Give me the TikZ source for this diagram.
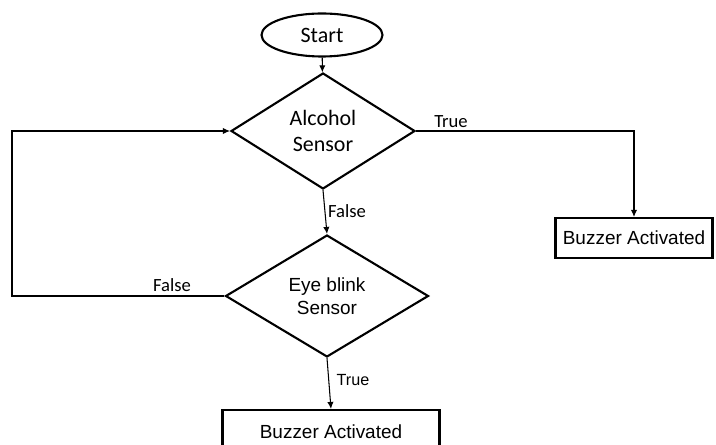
\documentclass[tikz,border=0pt]{standalone}
\usepackage{fontspec}
\setmainfont{Liberation Sans}
\newfontfamily\calibri{Carlito}
\usepackage{tikz}
\usetikzlibrary{positioning,shapes,arrows.meta}

\begin{document}
\begin{tikzpicture}[
    x=0.02cm, y=-0.02cm,
    startnode/.style={ellipse, draw, line width=1.2pt, minimum width=2.42cm, minimum height=0.86cm, inner sep=0pt, font=\calibri\fontsize{12.5}{14}\selectfont},
    decision/.style={diamond, draw, line width=1.2pt, inner sep=0pt, align=center},
    action/.style={rectangle, draw, line width=1.2pt, inner sep=0pt, font=\fontsize{10.8}{12.5}\selectfont},
    label/.style={font=\calibri\fontsize{10.6}{12}\selectfont, inner sep=1pt},
    arrow/.style={-{Latex[length=4pt,width=3.6pt]},line width=0.6pt}
]
\useasboundingbox (0,0) rectangle (716,445);

% Start
\node[startnode] (start) at (322,35) {Start};

% Alcohol Sensor
\node[decision, minimum width=3.68cm, minimum height=2.32cm, font=\calibri\fontsize{12.5}{15}\selectfont] (alcohol) at (323,131) {Alcohol\\Sensor};

% Eye blink Sensor
\node[decision, minimum width=4.06cm, minimum height=2.44cm, font=\fontsize{10.8}{13}\selectfont] (eyeblink) at (327,296) {Eye blink\\Sensor};

% Buzzer boxes
\node[action, minimum width=3.14cm, minimum height=0.8cm] (buzzright) at (634,238) {Buzzer Activated};
\node[action, minimum width=4.34cm, minimum height=0.88cm] (buzzdown) at (331,432) {Buzzer Activated};

% Loop back
\coordinate (back) at (12,296);

% Connections
\draw[arrow] (start) -- (alcohol);
\draw[arrow] (alcohol.east) -| (buzzright.north);
\draw[arrow] (alcohol.south) -- (eyeblink.north);
\draw[arrow] (eyeblink.south) -- (buzzdown.north);
\draw[arrow] (eyeblink.west) -- (back) |- (alcohol.west);

% Labels
\node[label] (ltrue) at (451,122) {True};
\node[label] (lfalse) at (347,211) {False};
\node[label] (lfalseback) at (172,285) {False};
\node[label, font=\fontsize{9.2}{11}\selectfont] (ltruedown) at (353,380) {True};

\end{tikzpicture}
\end{document}
